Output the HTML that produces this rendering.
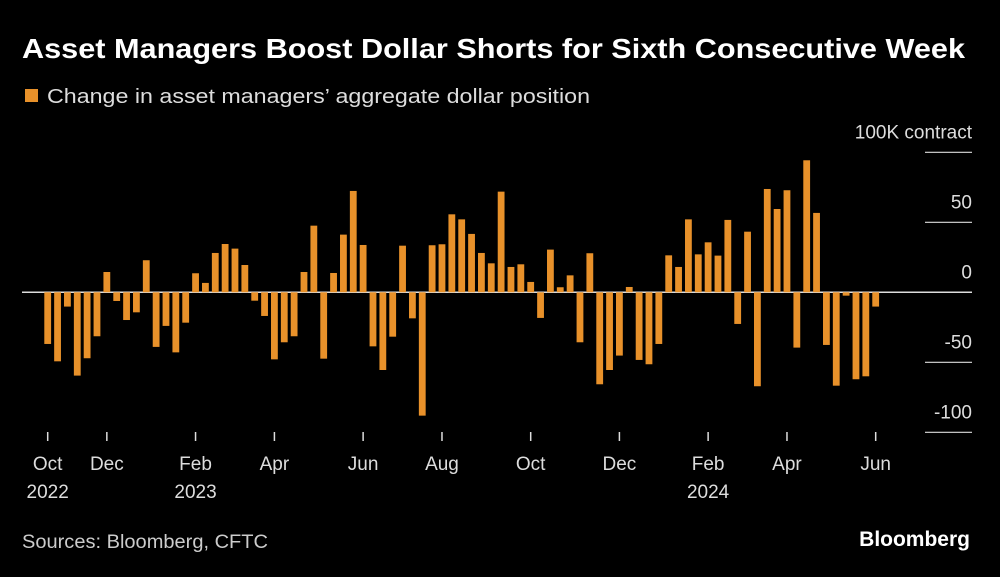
<!DOCTYPE html>
<html><head><meta charset="utf-8"><style>
body{margin:0;background:#000;width:1000px;height:572px;overflow:hidden;font-family:"Liberation Sans",sans-serif;color:#fff}
</style></head><body>
<svg width="1000" height="572" viewBox="0 0 1000 572">
<text x="22" y="58" font-size="28" font-weight="bold" fill="#fff" textLength="943" lengthAdjust="spacingAndGlyphs">Asset Managers Boost Dollar Shorts for Sixth Consecutive Week</text>
<rect x="25" y="89" width="13" height="13" fill="#e8912a"/>
<text x="47" y="103" font-size="20" fill="#ddd" textLength="543" lengthAdjust="spacingAndGlyphs">Change in asset managers’ aggregate dollar position</text>
<g id="yaxis"></g>
<g id="bars"></g>
<g id="xaxis"></g>
<text x="22" y="548" font-size="19" fill="#ccc" textLength="246" lengthAdjust="spacingAndGlyphs">Sources: Bloomberg, CFTC</text>
<text x="970" y="546" font-size="21" font-weight="bold" fill="#fff" text-anchor="end">Bloomberg</text>
</svg>
<script>
const values=[-36.9,-49.3,-10.2,-59.5,-47.1,-31.4,14.5,-6.2,-19.8,-14.3,22.9,-39,-24,-42.9,-21.7,13.6,6.7,28.1,34.5,31.2,19.5,-6,-16.9,-47.9,-35.7,-31.4,14.5,47.6,-47.4,13.8,41.2,72.4,33.8,-38.6,-55.5,-31.7,33.3,-18.6,-88.1,33.6,34.3,55.7,52.1,41.7,28.1,20.7,71.9,18.1,20,7.4,-18.3,30.5,3.6,12.1,-35.7,27.9,-65.7,-55.5,-45.2,3.8,-48.3,-51.4,-36.9,26.4,18.1,52.1,27.1,35.7,26.2,51.7,-22.6,43.3,-67.1,73.8,59.5,72.9,-39.5,94.3,56.7,-37.6,-66.7,-2.4,-62.1,-60,-10.2];
const tickIdx=[0,6,15,23,32,40,49,58,67,75,84];
const tickMonths=["Oct","Dec","Feb","Apr","Jun","Aug","Oct","Dec","Feb","Apr","Jun"];
const tickYears=["2022","","2023","","","","","","2024","",""];
const yTicks=[100,50,0,-50,-100];
const yLabels=["100K contract","50","0","-50","-100"];
const NS="http://www.w3.org/2000/svg";
const x=i=>47.7+i*9.857;
const y=v=>292.3-v*1.4;
function mk(tag,attrs,parent){const e=document.createElementNS(NS,tag);for(const k in attrs)e.setAttribute(k,attrs[k]);document.getElementById(parent).appendChild(e);return e;}
yTicks.forEach((t,i)=>{
  if(t===0){const l=mk('line',{x1:22,x2:972,y1:y(0),y2:y(0),stroke:'#ddd','stroke-width':1.5},'yaxis');
    
    }
  else{const l=mk('line',{x1:925,x2:972,y1:y(t),y2:y(t),stroke:'#ddd','stroke-width':1.2},'yaxis');
    
    }
  const tx=mk('text',{x:972,y:y(t)-14,'font-size':19,fill:'#ddd','text-anchor':'end'},'yaxis');
  tx.textContent=yLabels[i];
  
  
});
values.forEach((v,i)=>{
  const r=mk('rect',{x:x(i)-3.4,width:6.8,y:Math.min(y(v),y(0)),height:Math.abs(y(v)-y(0)),fill:'#e8912a'},'bars');
  
  
});
tickIdx.forEach((ti,k)=>{
  const l=mk('line',{x1:x(ti),x2:x(ti),y1:432,y2:441,stroke:'#ddd','stroke-width':1.5},'xaxis');
  
  
  const t=mk('text',{x:x(ti),y:470,'font-size':19,fill:'#ddd','text-anchor':'middle'},'xaxis');
  t.textContent=tickMonths[k];
  
  
  if(tickYears[k]){const t2=mk('text',{x:x(ti),y:498,'font-size':19,fill:'#ddd','text-anchor':'middle'},'xaxis');
    t2.textContent=tickYears[k];
    
    }
});
</script>
</body></html>
